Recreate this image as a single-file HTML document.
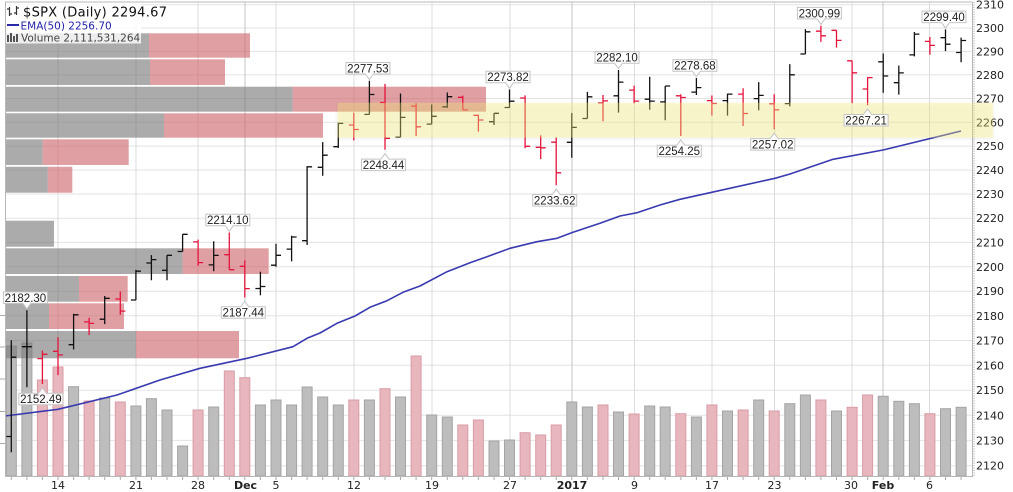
<!DOCTYPE html>
<html><head><meta charset="utf-8"><style>
html,body{margin:0;padding:0;background:#fff;}
svg{display:block;}
.g{fill:#bdbdbd;stroke:#a4a4a4;stroke-width:1}
.r{fill:#e8b6bd;stroke:#d99ca6;stroke-width:1}
.ax{font-family:"DejaVu Sans","Liberation Sans",sans-serif;font-size:11px;fill:#222}
.cl{font-family:"Liberation Sans",sans-serif;font-size:11.5px;fill:#222;text-anchor:middle}
.cb{fill:rgba(255,255,255,0.92);stroke:#c4c4c4;stroke-width:1}
</style></head><body>
<svg width="1013" height="492" viewBox="0 0 1013 492" xmlns="http://www.w3.org/2000/svg">
<defs>
<filter id="sh" x="-5%" y="-30%" width="110%" height="170%"><feDropShadow dx="0" dy="1" stdDeviation="1.5" flood-color="#000" flood-opacity="0.25"/></filter>
</defs>
<rect x="0" y="0" width="1013" height="492" fill="#fff"/>
<!-- horizontal grid -->
<g stroke="#e3e3e3" stroke-width="1">
<path d="M5 4.7H972M5 28H972M5 51.4H972M5 74.9H972M5 98.5H972M5 122.3H972M5 146.1H972M5 170H972M5 194H972M5 218.2H972M5 242.4H972M5 266.8H972M5 291.2H972M5 315.8H972M5 340.5H972M5 365.3H972M5 390.2H972M5 415.3H972M5 440.4H972M5 465.7H972"/>
</g>
<!-- vertical grid -->
<g stroke="#dcdcdc" stroke-width="1">
<path d="M58 2V476M136 2V476M198 2V476M276 2V476M354 2V476M432 2V476M510 2V476M634.5 2V476M712 2V476M774.5 2V476M852 2V476M929.5 2V476"/>
</g>
<g stroke="#c6c6c6" stroke-width="1">
<path d="M245 2V476M572 2V476M883 2V476"/>
</g>
<!-- volume bars -->
<g>
<rect class="g" x="6.3" y="346" width="10" height="130"/>
<rect class="g" x="21.9" y="343" width="10" height="133"/>
<rect class="r" x="37.4" y="380" width="10" height="96"/>
<rect class="r" x="53" y="367" width="10" height="109"/>
<rect class="g" x="68.6" y="386.7" width="10" height="89.3"/>
<rect class="r" x="84.1" y="401" width="10" height="75"/>
<rect class="g" x="99.7" y="398" width="10" height="78"/>
<rect class="r" x="115.3" y="402" width="10" height="74"/>
<rect class="g" x="130.9" y="406" width="10" height="70"/>
<rect class="g" x="146.4" y="398.7" width="10" height="77.3"/>
<rect class="g" x="162" y="410" width="10" height="66"/>
<rect class="g" x="177.6" y="446" width="10" height="30"/>
<rect class="r" x="193.1" y="410" width="10" height="66"/>
<rect class="g" x="208.7" y="407" width="10" height="69"/>
<rect class="r" x="224.3" y="371" width="10" height="105"/>
<rect class="r" x="239.8" y="377.7" width="10" height="98.3"/>
<rect class="g" x="255.4" y="405" width="10" height="71"/>
<rect class="g" x="271" y="400" width="10" height="76"/>
<rect class="g" x="286.6" y="405" width="10" height="71"/>
<rect class="g" x="302.1" y="387" width="10" height="89"/>
<rect class="g" x="317.7" y="397" width="10" height="79"/>
<rect class="g" x="333.3" y="405" width="10" height="71"/>
<rect class="r" x="348.8" y="400" width="10" height="76"/>
<rect class="g" x="364.4" y="400" width="10" height="76"/>
<rect class="r" x="380" y="388.7" width="10" height="87.3"/>
<rect class="g" x="395.5" y="397" width="10" height="79"/>
<rect class="r" x="411.1" y="356" width="10" height="120"/>
<rect class="g" x="426.7" y="415" width="10" height="61"/>
<rect class="g" x="442.3" y="417" width="10" height="59"/>
<rect class="r" x="457.8" y="425" width="10" height="51"/>
<rect class="r" x="473.4" y="420" width="10" height="56"/>
<rect class="g" x="489" y="441" width="10" height="35"/>
<rect class="g" x="504.5" y="440" width="10" height="36"/>
<rect class="r" x="520.1" y="432.7" width="10" height="43.3"/>
<rect class="r" x="535.7" y="435" width="10" height="41"/>
<rect class="r" x="551.2" y="425" width="10" height="51"/>
<rect class="g" x="566.8" y="402" width="10" height="74"/>
<rect class="g" x="582.4" y="407" width="10" height="69"/>
<rect class="r" x="598" y="405" width="10" height="71"/>
<rect class="g" x="613.5" y="412" width="10" height="64"/>
<rect class="r" x="629.1" y="414" width="10" height="62"/>
<rect class="g" x="644.7" y="406" width="10" height="70"/>
<rect class="g" x="660.2" y="407" width="10" height="69"/>
<rect class="r" x="675.8" y="413.7" width="10" height="62.3"/>
<rect class="g" x="691.4" y="417" width="10" height="59"/>
<rect class="r" x="706.9" y="405" width="10" height="71"/>
<rect class="g" x="722.5" y="411" width="10" height="65"/>
<rect class="r" x="738.1" y="410" width="10" height="66"/>
<rect class="g" x="753.7" y="400" width="10" height="76"/>
<rect class="r" x="769.2" y="411" width="10" height="65"/>
<rect class="g" x="784.8" y="403.7" width="10" height="72.3"/>
<rect class="g" x="800.4" y="395" width="10" height="81"/>
<rect class="r" x="815.9" y="400" width="10" height="76"/>
<rect class="g" x="831.5" y="411" width="10" height="65"/>
<rect class="r" x="847.1" y="407.3" width="10" height="68.7"/>
<rect class="r" x="862.6" y="395" width="10" height="81"/>
<rect class="g" x="878.2" y="396.3" width="10" height="79.7"/>
<rect class="g" x="893.8" y="401.3" width="10" height="74.7"/>
<rect class="g" x="909.4" y="403.7" width="10" height="72.3"/>
<rect class="r" x="924.9" y="413.7" width="10" height="62.3"/>
<rect class="g" x="940.5" y="408.7" width="10" height="67.3"/>
<rect class="g" x="956.1" y="407.3" width="10" height="68.7"/>
</g>
<!-- volume by price -->
<g fill="rgba(120,120,120,0.62)">
<rect x="5" y="33.3" width="144" height="24.4"/>
<rect x="5" y="59.3" width="145" height="25.7"/>
<rect x="5" y="86.7" width="287.7" height="25"/>
<rect x="5" y="113.3" width="159" height="24.4"/>
<rect x="5" y="139.3" width="37.7" height="25.7"/>
<rect x="5" y="166.7" width="42.7" height="26"/>
<rect x="5" y="220.7" width="49" height="26"/>
<rect x="5" y="248.3" width="177.7" height="25.7"/>
<rect x="5" y="276" width="74" height="25.7"/>
<rect x="5" y="303.3" width="44" height="25.7"/>
<rect x="5" y="331" width="131" height="27.3"/>
</g>
<g fill="rgba(205,100,106,0.62)">
<rect x="149" y="33.3" width="101" height="24.4"/>
<rect x="150" y="59.3" width="75" height="25.7"/>
<rect x="292.7" y="86.7" width="193.3" height="25"/>
<rect x="164" y="113.3" width="159" height="24.4"/>
<rect x="42.7" y="139.3" width="86" height="25.7"/>
<rect x="47.7" y="166.7" width="24.6" height="26"/>
<rect x="182.7" y="248.3" width="86" height="25.7"/>
<rect x="79" y="276" width="48.7" height="25.7"/>
<rect x="49" y="303.3" width="75" height="25.7"/>
<rect x="136" y="331" width="103" height="27.3"/>
</g>
<!-- EMA -->
<polyline fill="none" stroke="#3a3ab0" stroke-width="1.6" stroke-linejoin="round" points="5,416 58,409.3 117,395 160,380 200,368.3 247,358.3 293,346.7 307,338.3 320,333 337,323.3 355,316 370,307.3 387,300.7 403,292.3 420,286 447,271.7 470,262.7 487,256.7 510,248.3 537,241.7 557,238.3 573,232.3 600,223.3 620,216 637,212.7 660,205 680,199.3 710,192.7 775,178.3 790,174 833,159.3 883,150 961,131"/>
<!-- OHLC black -->
<path fill="none" stroke="#111" stroke-width="1.3" d="M11.3 340.3V452.2M6.3 436.5H11.3M11.3 357.2H16.3
M26.9 310.2V387.3M21.9 346.7H26.9M26.9 346.7H31.9
M73.6 313.7V349.5M68.6 344.7H73.6M73.6 314.8H78.6
M104.7 296V324.1M99.7 319.2H104.7M104.7 298.3H109.7
M135.9 269.9V300M130.9 300H135.9M135.9 271.2H140.9
M151.4 255.1V280.2M146.4 263H151.4M151.4 259.6H156.4
M167 255.3V280.2M162 270.3H167M167 255.3H172
M182.6 234.3V251.5M177.6 251.5H182.6M182.6 234.3H187.6
M213.7 241.3V271.3M208.7 264.9H213.7M213.7 255.4H218.7
M260.4 271.8V295.2M255.4 288.5H260.4M260.4 286.5H265.4
M276 243.8V266.8M271 265.2H276M276 255.3H281
M291.6 235.7V261.4M286.6 249.1H291.6M291.6 237H296.6
M307.1 166.1V245M302.1 240.7H307.1M307.1 166.8H312.1
M322.7 142.1V175.8M317.7 167.3H322.7M322.7 155.2H327.7
M338.3 122.7V147.9M333.3 146.7H338.3M338.3 123.4H343.3
M369.4 80.8V114.4M364.4 114.4H369.4M369.4 94.5H374.4
M400.5 93.5V137.1M395.5 137.1H400.5M400.5 117.4H405.5
M431.7 104.5V124.1M426.7 124.1H431.7M431.7 116.3H436.7
M447.3 92.5V107.7M442.3 106.8H447.3M447.3 96.7H452.3
M494 113.3V125M489 121.7H494M494 113.3H499
M509.5 89.5V107.7M504.5 107.5H509.5M509.5 101.2H514.5
M571.8 113V157.7M566.8 142.3H571.8M571.8 127.4H576.8
M587.4 91.9V118.5M582.4 118.5H587.4M587.4 96.8H592.4
M618.5 70V112.6M613.5 95.8H618.5M618.5 82.1H623.5
M649.7 76.7V109.8M644.7 99.2H649.7M649.7 101.1H654.7
M665.2 86V120.3M660.2 101.9H665.2M665.2 86H670.2
M696.4 78V95M691.4 92.1H696.4M696.4 87.6H701.4
M727.5 93.6V115.6M722.5 100.6H727.5M727.5 94.1H732.5
M758.7 82.1V110.4M753.7 98.6H758.7M758.7 95.4H763.7
M789.8 64.1V106.4M784.8 103.6H789.8M789.8 74.8H794.8
M805.4 29.1V54M800.4 54H805.4M805.4 31.8H810.4
M883.2 53.5V92.8M878.2 61.8H883.2M883.2 76H888.2
M898.8 65.6V94.6M893.8 82.7H898.8M898.8 72.9H903.8
M914.4 32V56.4M909.4 54.9H914.4M914.4 34.1H919.4
M945.5 29.4V51.1M940.5 37.7H945.5M945.5 44.2H950.5
M961.1 37.6V62.3M956.1 52.5H961.1M961.1 40.5H966.1"/>
<!-- OHLC red -->
<path fill="none" stroke="#e5143c" stroke-width="1.3" d="M42.4 350.6V384M37.4 358.6H42.4M42.4 354.3H47.4
M58 337.1V375.1M53 351.3H58M58 354.9H63
M89.1 317.7V335.1M84.1 321.9H89.1M89.1 323.4H94.1
M120.3 291.5V314.9M115.3 299H120.3M120.3 311.1H125.3
M198.1 239.6V265.9M193.1 241.9H198.1M198.1 262.6H203.1
M229.3 232.5V269.7M224.3 254.7H229.3M229.3 269.7H234.3
M244.8 260.4V297.5M239.8 266.3H244.8M244.8 288.6H249.8
M353.8 112.7V140.4M348.8 125H353.8M353.8 129.5H358.8
M385 83.9V149.8M380 102.5H385M385 138.3H390
M416.1 103.2V136M411.1 106.1H416.1M416.1 126.8H421.1
M462.8 95.6V110M457.8 97.3H462.8M462.8 109.9H467.8
M478.4 114.7V131.6M473.4 115.3H478.4M478.4 120H483.4
M525.1 95.4V148.2M520.1 98H525.1M525.1 146.3H530.1
M540.7 135.3V159.1M535.7 147.3H540.7M540.7 147.8H545.7
M556.2 137.5V185.3M551.2 142.2H556.2M556.2 172.8H561.2
M603 95V121.2M598 102.9H603M603 100.9H608
M634.1 85.6V103.2M629.1 90.1H634.1M634.1 101.1H639.1
M680.8 94.3V136M675.8 95.8H680.8M680.8 97.5H685.8
M711.9 95.5V115.6M706.9 100.6H711.9M711.9 103.5H716.9
M743.1 88.3V126M738.1 94.1H743.1M743.1 113.5H748.1
M774.2 94.3V129.3M769.2 103.8H774.2M774.2 109.9H779.2
M820.9 25.7V41.9M815.9 31.2H820.9M820.9 35.8H825.9
M836.5 30.3V47.6M831.5 30.3H836.5M836.5 40.4H841.5
M852.1 60.8V103.2M847.1 60.8H852.1M852.1 72.8H857.1
M867.6 77.1V105.2M862.6 89H867.6M867.6 77.6H872.6
M929.9 37V54.8M924.9 41.4H929.9M929.9 45.4H934.9"/>
<!-- axes -->
<g stroke="#b8b8b8" stroke-width="1" fill="none">
<path d="M5 2H972"/>
<path d="M5.5 2V476"/>
<path d="M972.5 2V476"/>
<path d="M5 476.5H973"/>
</g>
<path d="M974 2V476" stroke="#cfcfcf" stroke-width="2" stroke-dasharray="1 1.4"/>
<path stroke="#aaa" stroke-width="1" d="M0 315.5H5M0 347H5M0 379H5M0 411.5H5M0 443.5H5"/>
<path stroke="#aaa" stroke-width="1" d="M11.3 477V480M26.9 477V480M42.4 477V480M58 477V480M73.6 477V480M89.1 477V480M104.7 477V480M120.3 477V480M135.9 477V480M151.4 477V480M167 477V480M182.6 477V480M198.1 477V480M213.7 477V480M229.3 477V480M244.8 477V480M260.4 477V480M276 477V480M291.6 477V480M307.1 477V480M322.7 477V480M338.3 477V480M353.8 477V480M369.4 477V480M385 477V480M400.5 477V480M416.1 477V480M431.7 477V480M447.3 477V480M462.8 477V480M478.4 477V480M494 477V480M509.5 477V480M525.1 477V480M540.7 477V480M556.2 477V480M571.8 477V480M587.4 477V480M603 477V480M618.5 477V480M634.1 477V480M649.7 477V480M665.2 477V480M680.8 477V480M696.4 477V480M711.9 477V480M727.5 477V480M743.1 477V480M758.7 477V480M774.2 477V480M789.8 477V480M805.4 477V480M820.9 477V480M836.5 477V480M852.1 477V480M867.6 477V480M883.2 477V480M898.8 477V480M914.4 477V480M929.9 477V480M945.5 477V480M961.1 477V480"/>
<!-- y labels -->
<g class="ax">
<text x="976" y="8.7">2310</text>
<text x="976" y="32">2300</text>
<text x="976" y="55.4">2290</text>
<text x="976" y="78.9">2280</text>
<text x="976" y="102.5">2270</text>
<text x="976" y="126.3">2260</text>
<text x="976" y="150.1">2250</text>
<text x="976" y="174">2240</text>
<text x="976" y="198">2230</text>
<text x="976" y="222.2">2220</text>
<text x="976" y="246.4">2210</text>
<text x="976" y="270.8">2200</text>
<text x="976" y="295.2">2190</text>
<text x="976" y="319.8">2180</text>
<text x="976" y="344.5">2170</text>
<text x="976" y="369.3">2160</text>
<text x="976" y="394.2">2150</text>
<text x="976" y="419.3">2140</text>
<text x="976" y="444.4">2130</text>
<text x="976" y="469.7">2120</text>
</g>
<!-- x labels -->
<g class="ax" text-anchor="middle">
<text x="58" y="489">14</text>
<text x="136" y="489">21</text>
<text x="198" y="489">28</text>
<text x="245.5" y="489" font-weight="bold">Dec</text>
<text x="276" y="489">5</text>
<text x="354" y="489">12</text>
<text x="432" y="489">19</text>
<text x="510" y="489">27</text>
<text x="572" y="489" font-weight="bold">2017</text>
<text x="634.5" y="489">9</text>
<text x="712" y="489">17</text>
<text x="774.5" y="489">23</text>
<text x="851" y="489">30</text>
<text x="883" y="489" font-weight="bold">Feb</text>
<text x="929.5" y="489">6</text>
</g>
<!-- highlight band -->
<rect x="337.5" y="102.7" width="655.5" height="35" fill="rgba(250,242,120,0.32)" filter="url(#sh)"/>
<!-- callouts -->
<g>
<path class="cb" d="M3.4 291.9H47.4V303.4H30.9L26.9 308.9L22.9 303.4H3.4Z"/><text class="cl" x="25.4" y="301.8">2182.30</text>
<path class="cb" d="M18.9 393.3H38.4L42.4 387.8L46.4 393.3H62.9V404.8H18.9Z"/><text class="cl" x="40.9" y="403.2">2152.49</text>
<path class="cb" d="M205.8 214.2H249.8V225.7H233.3L229.3 231.2L225.3 225.7H205.8Z"/><text class="cl" x="227.8" y="224.1">2214.10</text>
<path class="cb" d="M221.3 306.8H240.8L244.8 301.3L248.8 306.8H265.3V318.3H221.3Z"/><text class="cl" x="243.3" y="316.7">2187.44</text>
<path class="cb" d="M345.9 62.5H389.9V74H373.4L369.4 79.5L365.4 74H345.9Z"/><text class="cl" x="367.9" y="72.4">2277.53</text>
<path class="cb" d="M361.5 159.1H381L385 153.6L389 159.1H405.5V170.6H361.5Z"/><text class="cl" x="383.5" y="169">2248.44</text>
<path class="cb" d="M486 71.2H530V82.7H513.5L509.5 88.2L505.5 82.7H486Z"/><text class="cl" x="508" y="81.1">2273.82</text>
<path class="cb" d="M532.7 194.6H552.2L556.2 189.1L560.2 194.6H576.7V206.1H532.7Z"/><text class="cl" x="554.7" y="204.5">2233.62</text>
<path class="cb" d="M595 51.7H639V63.2H622.5L618.5 68.7L614.5 63.2H595Z"/><text class="cl" x="617" y="61.6">2282.10</text>
<path class="cb" d="M657.3 145.3H676.8L680.8 139.8L684.8 145.3H701.3V156.8H657.3Z"/><text class="cl" x="679.3" y="155.2">2254.25</text>
<path class="cb" d="M672.9 59.7H716.9V71.2H700.4L696.4 76.7L692.4 71.2H672.9Z"/><text class="cl" x="694.9" y="69.6">2278.68</text>
<path class="cb" d="M750.7 138.6H770.2L774.2 133.1L778.2 138.6H794.7V150.1H750.7Z"/><text class="cl" x="772.7" y="148.5">2257.02</text>
<path class="cb" d="M797.4 7.4H841.4V18.9H824.9L820.9 24.4L816.9 18.9H797.4Z"/><text class="cl" x="819.4" y="17.3">2300.99</text>
<path class="cb" d="M844.1 114.5H863.6L867.6 109L871.6 114.5H888.1V126H844.1Z"/><text class="cl" x="866.1" y="124.4">2267.21</text>
<path class="cb" d="M922 11.1H966V22.6H949.5L945.5 28.1L941.5 22.6H922Z"/><text class="cl" x="944" y="21">2299.40</text>
</g>
<!-- legend -->
<rect x="6" y="3" width="135" height="40.5" fill="rgba(255,255,255,0.8)"/>
<path fill="none" stroke="#333" stroke-width="1.2" d="M9.5 7V16M7 9H9.5M9.5 14H12M16.5 6V15M14 13H16.5M16.5 8H19"/>
<text x="23" y="16.3" font-family="DejaVu Sans, Liberation Sans, sans-serif" font-size="13" letter-spacing="0.3" fill="#111">$SPX (Daily) 2294.67</text>
<path d="M7 25H19" stroke="#2a2aa8" stroke-width="2"/>
<text x="20.5" y="29.3" font-family="DejaVu Sans, Liberation Sans, sans-serif" font-size="10.5" fill="#2222aa">EMA(50) 2256.70</text>
<g fill="#555"><rect x="7" y="35" width="2" height="7"/><rect x="10" y="33" width="2" height="9"/><rect x="13" y="36" width="2" height="6"/><rect x="16" y="34" width="2" height="8"/></g>
<text x="21" y="41.7" font-family="DejaVu Sans, Liberation Sans, sans-serif" font-size="10.5" fill="#444">Volume 2,111,531,264</text>
</svg>
</body></html>
